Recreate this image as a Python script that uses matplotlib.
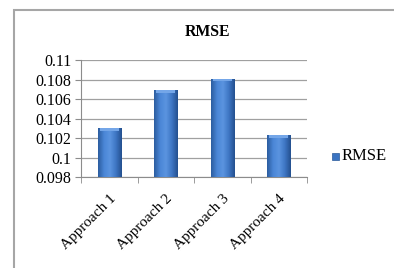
import numpy as np
import matplotlib.pyplot as plt
from matplotlib.colors import LinearSegmentedColormap
from matplotlib.patches import Rectangle

# data
categories = ['Approach 1', 'Approach 2', 'Approach 3', 'Approach 4']
rmse = [0.1030, 0.1069, 0.1081, 0.1023]
yticks = [0.098, 0.1, 0.102, 0.104, 0.106, 0.108, 0.11]
ytick_labels = ['0.098', '0.1', '0.102', '0.104', '0.106', '0.108', '0.11']

plt.rcParams['font.family'] = ['Liberation Serif', 'DejaVu Serif']

fig = plt.figure(figsize=(3.94, 2.68), dpi=100)
W, H = 394, 268

# chart frame (top and left visible, rest cut off)
fig.add_artist(Rectangle((14 / W, -0.1), 1.2, (H - 10) / H + 0.1,
                         transform=fig.transFigure, fill=False,
                         edgecolor='#a6a6a6', lw=1.5))

ax = fig.add_axes([81 / W, 1 - 177 / H, (307 - 81) / W, (177 - 60) / H])
x = np.arange(len(categories))
base = yticks[0]
bars = ax.bar(x, [v - base for v in rmse], width=0.41, bottom=base,
              color='#3b74c2', edgecolor='#2a5a9a', lw=0.6, zorder=3)

# horizontal gradient in each bar for the glossy look
cmap = LinearSegmentedColormap.from_list(
    'bar', ['#2c5da0', '#4a86d6', '#5b94e0', '#3e76c4', '#24508f'])
grad = np.linspace(0, 1, 64).reshape(1, -1)
for b in bars:
    x0, w = b.get_x(), b.get_width()
    top = b.get_y() + b.get_height()
    im = ax.imshow(grad, cmap=cmap, aspect='auto', zorder=4,
                   extent=(x0, x0 + w, base, top))
    im.set_clip_path(b)
    # light cap at the top
    ax.add_patch(Rectangle((x0 + w * 0.1, top - 0.0003), w * 0.8, 0.0003,
                           color='#74a6e8', zorder=5, lw=0))

ax.set_xlim(-0.5, len(categories) - 0.5)
ax.set_ylim(0.098, 0.11)
ax.set_yticks(yticks)
ax.set_yticklabels(ytick_labels, fontsize=11.5)
ax.yaxis.grid(True, color='#a0a0a0', lw=0.9, zorder=0)

ax.set_xticks(x)
ax.set_xticklabels(categories, rotation=45, ha='right', va='top',
                   rotation_mode='anchor', fontsize=11)
ax.tick_params(axis='x', length=0, pad=11)
ax.set_xticks(np.arange(len(categories) + 1) - 0.5, minor=True)
ax.tick_params(axis='x', which='minor', length=4, color='#8c8c8c')
ax.tick_params(axis='y', length=4, color='#8c8c8c', pad=3)

for s in ['top', 'right']:
    ax.spines[s].set_visible(False)
ax.spines['left'].set_color('#8c8c8c')
ax.spines['bottom'].set_color('#8c8c8c')

fig.text(207 / W, 1 - 32 / H, 'RMSE', ha='center', va='center',
         fontsize=11.3, fontweight='bold')

# legend
fig.add_artist(Rectangle((332 / W, 1 - 160 / H), 7 / W, 7 / H,
                         transform=fig.transFigure, facecolor='#3b74c2',
                         edgecolor='#2a5a9a', lw=0.5))
fig.text(342 / W, 1 - 156.5 / H, 'RMSE', ha='left', va='center', fontsize=12)

fig.savefig('out.png', dpi=100)
